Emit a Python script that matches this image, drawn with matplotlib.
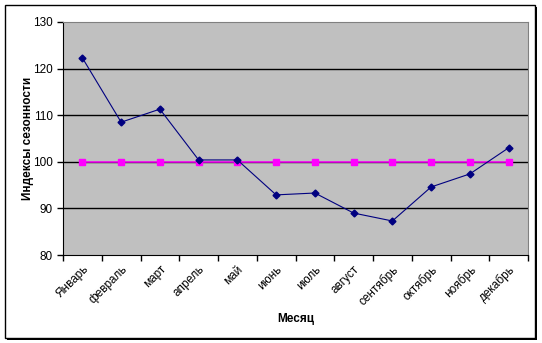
import matplotlib.pyplot as plt
import numpy as np
from matplotlib.patches import Rectangle

months = ["Январь", "февраль", "март", "апрель", "май", "июнь",
          "июль", "август", "сентябрь", "октябрь", "ноябрь", "декабрь"]
seasonal_index = [122.3, 108.5, 111.3, 100.4, 100.4, 92.9,
                  93.3, 89.0, 87.3, 94.6, 97.4, 103.0]
base_level = [100] * 12

plt.rcParams["font.family"] = ["Liberation Sans", "DejaVu Sans"]

W, H = 542, 343
fig = plt.figure(figsize=(W / 100, H / 100), dpi=100)

# chart frame with a drop shadow
fig.patches.append(Rectangle((7 / W, 3 / H), 530 / W, 333 / H, transform=fig.transFigure,
                             facecolor="black", edgecolor="none", zorder=-2))
fig.patches.append(Rectangle((5 / W, 5 / H), 530 / W, 333 / H, transform=fig.transFigure,
                             facecolor="white", edgecolor="black", linewidth=1, zorder=-1))

left, right, top, bottom = 63, 528, 22, 255
ax = fig.add_axes([left / W, 1 - bottom / H, (right - left) / W, (bottom - top) / H])
ax.set_zorder(1)
ax.set_facecolor("#c0c0c0")

x = np.arange(len(months))
ax.plot(x, seasonal_index, color="#000080", linewidth=0.8, marker="D", markersize=3.5,
        zorder=3)
ax.plot(x, base_level, color="#ff00ff", linewidth=1.1, marker="s", markersize=4.5,
        zorder=2)

ax.set_xlim(-0.5, len(months) - 0.5)
ax.set_ylim(80, 130)
ax.set_yticks(range(80, 131, 10))
for yv in range(90, 130, 10):
    ax.axhline(yv, color="black", linewidth=1, zorder=1)

ax.set_xticks(np.arange(-0.5, len(months), 1.0))
ax.set_xticklabels([])
ax.set_xticks(x, minor=True)
ax.set_xticklabels(months, minor=True, rotation=45, ha="right", va="top",
                   rotation_mode="anchor", fontsize=8.5)
ax.tick_params(axis="x", which="minor", length=0, pad=6)
ax.tick_params(axis="x", which="major", direction="out", length=4, width=1)
ax.tick_params(axis="y", direction="out", length=4, width=1, labelsize=8.5)

for side in ("top", "right"):
    ax.spines[side].set_color("#808080")
for side in ("left", "bottom"):
    ax.spines[side].set_color("black")

fig.text(28 / W, 1 - 138 / H, "Индексы сезонности", rotation=90, fontsize=8.5,
         fontweight="bold", ha="center", va="center")
fig.text(296 / W, 1 - 319 / H, "Месяц", fontsize=8.5, fontweight="bold",
         ha="center", va="center")

fig.savefig("out.png", dpi=100)
